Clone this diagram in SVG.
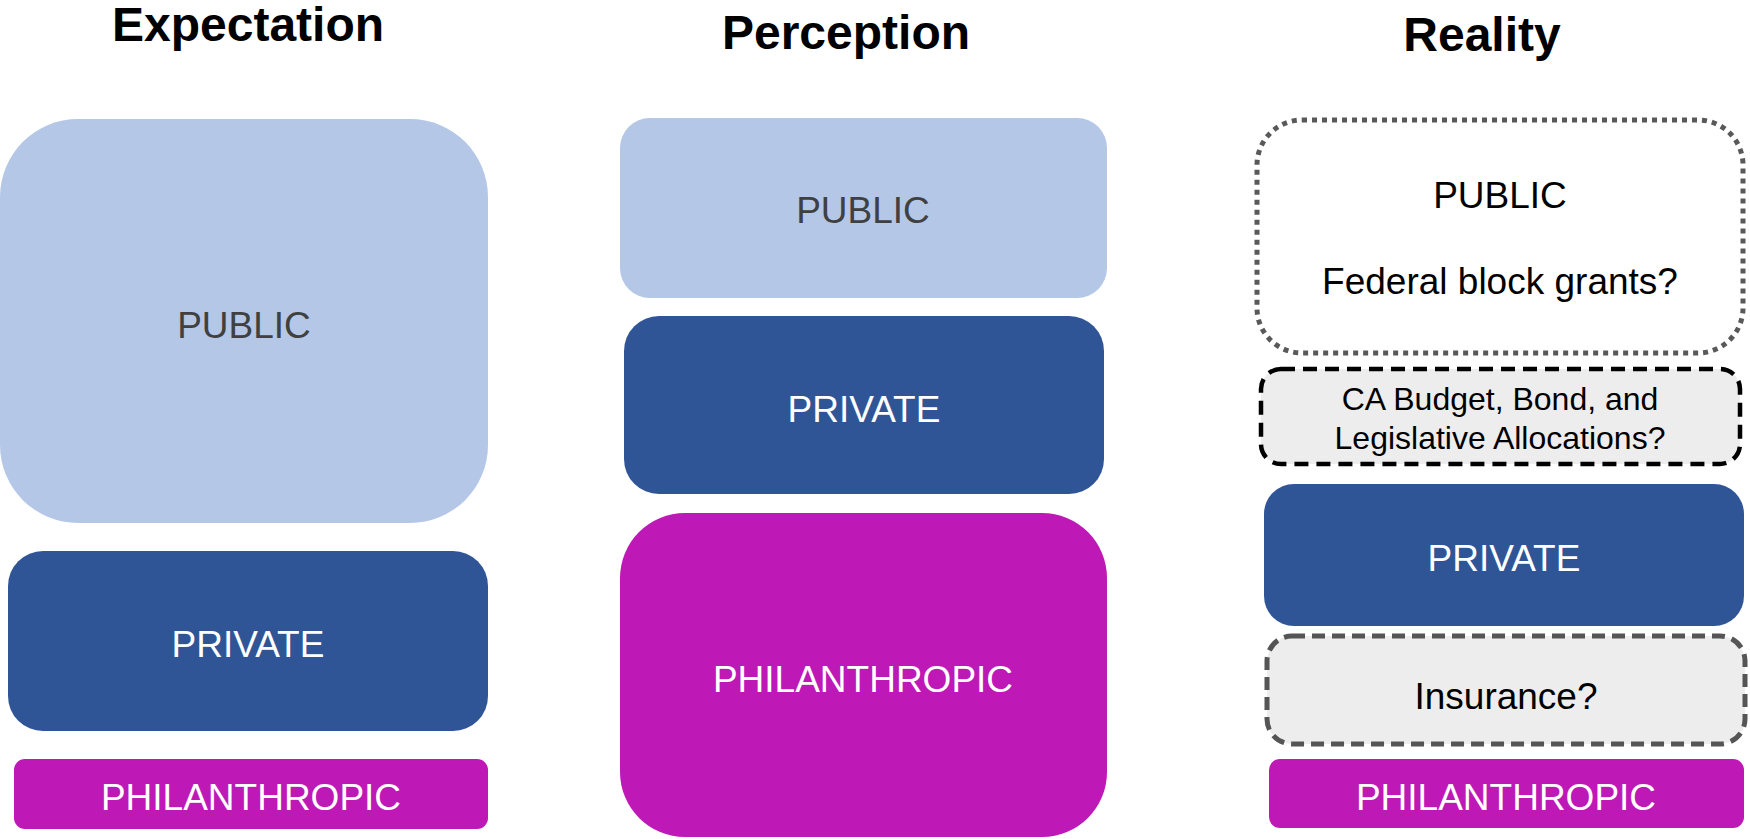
<svg xmlns="http://www.w3.org/2000/svg" width="1750" height="839" viewBox="0 0 1750 839">
<style>
.title{font-family:"Liberation Sans",Arial,sans-serif;font-weight:bold;font-size:48px;fill:#000;text-anchor:middle}
.lbl{font-family:"Liberation Sans",Arial,sans-serif;font-size:37px;text-anchor:middle}
.w{fill:#fff}
.g{fill:#404040}
.k{fill:#000}
.pub{fill:#B4C7E7}
.pri{fill:#2F5597}
.phi{fill:#BE18B6}
</style>
<rect width="1750" height="839" fill="#fff"/>
<g id="titles">
<text class="title" x="248" y="41">Expectation</text>
<text class="title" x="846" y="49">Perception</text>
<text class="title" x="1482" y="51">Reality</text>
</g>
<g id="exp-public"><rect class="pub" x="0" y="119" width="488" height="404" rx="78"/><text class="lbl g" x="244" y="338">PUBLIC</text></g>
<g id="exp-private"><rect class="pri" x="8" y="551" width="480" height="180" rx="35"/><text class="lbl w" x="248" y="657">PRIVATE</text></g>
<g id="exp-phil"><rect class="phi" x="14" y="759" width="474" height="70" rx="11"/><text class="lbl w" x="251" y="810">PHILANTHROPIC</text></g>
<g id="per-public"><rect class="pub" x="620" y="118" width="487" height="180" rx="30"/><text class="lbl g" x="863" y="223">PUBLIC</text></g>
<g id="per-private"><rect class="pri" x="624" y="316" width="480" height="178" rx="35"/><text class="lbl w" x="864" y="422">PRIVATE</text></g>
<g id="per-phil"><rect class="phi" x="620" y="513" width="487" height="324" rx="65"/><text class="lbl w" x="863" y="692">PHILANTHROPIC</text></g>
<g id="real-public"><rect x="1257" y="120" width="486" height="233" rx="45" fill="#fff" stroke="#595959" stroke-width="5" stroke-dasharray="5 5"/><text class="lbl k" x="1500" y="208">PUBLIC</text><text class="lbl k" x="1500" y="294">Federal block grants?</text></g>
<g id="real-ca"><rect x="1261" y="369" width="479" height="95" rx="20" fill="#EDEDED" stroke="#000" stroke-width="4.5" stroke-dasharray="14 8"/><text class="lbl k" style="font-size:32px" x="1500" y="410">CA Budget, Bond, and</text><text class="lbl k" style="font-size:32px" x="1500" y="449">Legislative Allocations?</text></g>
<g id="real-private"><rect class="pri" x="1264" y="484" width="480" height="142" rx="30"/><text class="lbl w" x="1504" y="571">PRIVATE</text></g>
<g id="real-ins"><rect x="1267" y="636" width="478" height="108" rx="25" fill="#EDEDED" stroke="#555" stroke-width="5" stroke-dasharray="13 7"/><text class="lbl k" x="1506" y="709">Insurance?</text></g>
<g id="real-phil"><rect class="phi" x="1269" y="759" width="475" height="69" rx="11"/><text class="lbl w" x="1506" y="810">PHILANTHROPIC</text></g>
<g id="connectors"></g>
</svg>
